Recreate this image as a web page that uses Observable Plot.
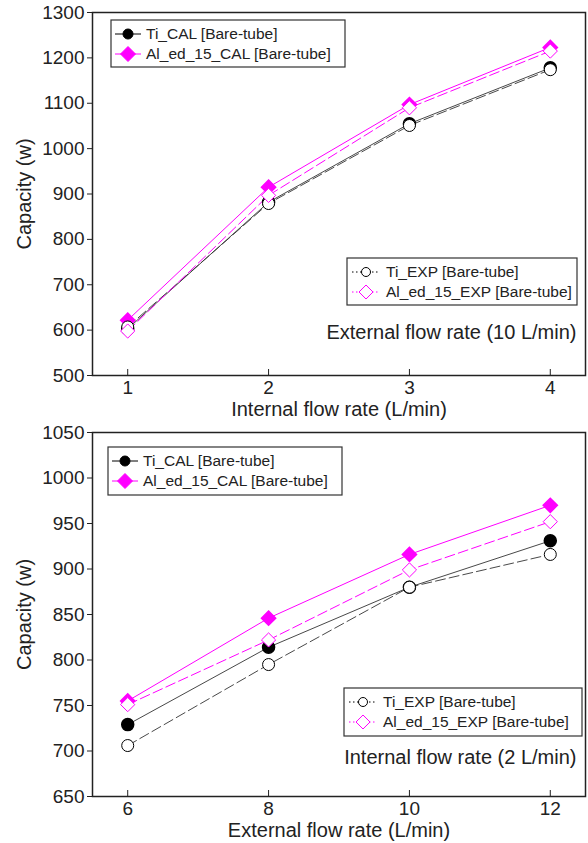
<!DOCTYPE html>
<html>
<head>
<meta charset="utf-8">
<script src="https://cdn.jsdelivr.net/npm/d3@7"></script>
<script src="https://cdn.jsdelivr.net/npm/@observablehq/plot@0.6"></script>
<style>
  html, body { margin: 0; padding: 0; background: #fff; }
  #wrap { width: 588px; }
  svg { display: block; }
</style>
</head>
<body>
<div id="wrap"></div>
<script>
// ---- Data: top panel (External flow rate 10 L/min) ----
const internalFlow = [1, 2, 3, 4];
const tiCalTop = [603, 882, 1055, 1178];
const tiExpTop = [607, 879, 1051, 1174];
const alCalTop = [622, 915, 1097, 1223];
const alExpTop = [598, 897, 1090, 1215];
const yTicksTop = [500, 600, 700, 800, 900, 1000, 1100, 1200, 1300];

// ---- Data: bottom panel (Internal flow rate 2 L/min) ----
const externalFlow = [6, 8, 10, 12];
const tiCalBot = [729, 814, 880, 931];
const tiExpBot = [706, 795, 880, 916];
const alCalBot = [755, 846, 916, 970];
const alExpBot = [751, 822, 899, 952];
const yTicksBot = [650, 700, 750, 800, 850, 900, 950, 1000, 1050];

const seriesNames = ["Ti_CAL [Bare-tube]", "Al_ed_15_CAL [Bare-tube]", "Ti_EXP [Bare-tube]", "Al_ed_15_EXP [Bare-tube]"];

const FONT = "Liberation Sans, Arial, Helvetica, sans-serif";
const MAG = "#ff00ff";
const BLK = "#222";

const zip = (xs, ys) => xs.map((x, i) => ({x, y: ys[i]}));

function makeChart(cfg) {
  const tiCal = zip(cfg.xs, cfg.tiCal), tiExp = zip(cfg.xs, cfg.tiExp);
  const alCal = zip(cfg.xs, cfg.alCal), alExp = zip(cfg.xs, cfg.alExp);
  const chart = Plot.plot({
    width: 588,
    height: cfg.height,
    marginLeft: 92,
    marginRight: 3,
    marginTop: cfg.marginTop,
    marginBottom: cfg.marginBottom,
    style: {fontFamily: FONT, fontSize: "19px", color: BLK, background: "#fff", overflow: "visible"},
    x: {domain: cfg.xDomain},
    y: {domain: cfg.yDomain},
    marks: [
      Plot.axisY({ticks: cfg.yTicks, tickSize: 5, tickPadding: 3, fontSize: 19, tickFormat: d => String(d),
        label: null}),
      Plot.axisY({ticks: [], tickSize: 0, fontSize: 20,
        label: "Capacity (w)", labelAnchor: "center", labelOffset: 76, labelArrow: false}),
      Plot.axisX({ticks: cfg.xs, tickSize: -6, tickPadding: 11, fontSize: 19, tickFormat: d => String(d),
        label: null}),
      Plot.axisX({ticks: [], tickSize: 0, fontSize: 20,
        label: cfg.xLabel, labelAnchor: "center", labelOffset: 40, labelArrow: false}),
      Plot.line(tiCal, {x: "x", y: "y", stroke: "#333", strokeWidth: 0.9}),
      Plot.line(tiExp, {x: "x", y: "y", stroke: "#333", strokeWidth: 0.9, strokeDasharray: "10,4"}),
      Plot.line(alCal, {x: "x", y: "y", stroke: MAG, strokeWidth: 1}),
      Plot.line(alExp, {x: "x", y: "y", stroke: MAG, strokeWidth: 1, strokeDasharray: "10,4"}),
      Plot.dot(tiCal, {x: "x", y: "y", r: 6, fill: "#000", stroke: "#000", symbol: "circle"}),
      Plot.dot(alCal, {x: "x", y: "y", r: 6.4, fill: MAG, stroke: MAG, symbol: "diamond2"}),
      Plot.dot(tiExp, {x: "x", y: "y", r: 6, fill: "#fff", stroke: "#000", strokeWidth: 1, symbol: "circle"}),
      Plot.dot(alExp, {x: "x", y: "y", r: 6.4, fill: "#fff", stroke: MAG, strokeWidth: 1, symbol: "diamond2"}),
      Plot.text([cfg.note], {text: d => d, frameAnchor: "bottom-right", dx: -9, dy: cfg.noteDy,
        fontSize: 20, fill: BLK, textAnchor: "end"}),
      Plot.frame({stroke: BLK, strokeWidth: 1.5})
    ]
  });

  const svg = d3.select(chart);
  function legend(box, items, opts) {
    const g = svg.append("g").attr("font-family", FONT).attr("font-size", 15.5)
      .attr("fill", BLK).attr("text-anchor", "start");
    g.append("rect").attr("x", box.x).attr("y", box.y).attr("width", box.w).attr("height", box.h)
      .attr("fill", "#fff").attr("stroke", "#333").attr("stroke-width", 1.2);
    items.forEach((it, i) => {
      const cy = box.y + opts.row0 + i * opts.rowStep;
      g.append("line").attr("x1", box.x + opts.l1).attr("x2", box.x + opts.l2)
        .attr("y1", cy).attr("y2", cy).attr("stroke", it.stroke).attr("stroke-width", 1)
        .attr("stroke-dasharray", it.dash || null);
      const mx = box.x + opts.mx;
      if (it.shape === "circle") {
        g.append("circle").attr("cx", mx).attr("cy", cy).attr("r", opts.cr)
          .attr("fill", it.fill).attr("stroke", it.stroke).attr("stroke-width", 1);
      } else {
        const h = opts.dh;
        g.append("path").attr("d", `M${mx},${cy - h}L${mx + h},${cy}L${mx},${cy + h}L${mx - h},${cy}Z`)
          .attr("fill", it.fill).attr("stroke", it.stroke).attr("stroke-width", 1);
      }
      g.append("text").attr("x", box.x + opts.tx).attr("y", cy).attr("dy", "0.35em").text(it.name);
    });
  }
  legend(cfg.leg1, [
    {name: seriesNames[0], shape: "circle", fill: "#000", stroke: "#000"},
    {name: seriesNames[1], shape: "diamond", fill: MAG, stroke: MAG}
  ], {row0: 14, rowStep: 20, l1: 4, l2: 30, mx: 17, cr: 5, dh: 7.5, tx: 35});
  legend(cfg.leg2, [
    {name: seriesNames[2], shape: "circle", fill: "#fff", stroke: "#000", dash: "1.5,2.5"},
    {name: seriesNames[3], shape: "diamond", fill: "#fff", stroke: MAG, dash: "1.5,2.5"}
  ], {row0: 14, rowStep: 20, l1: 5, l2: 32, mx: 19, cr: 4.5, dh: 7, tx: 39});
  return chart;
}

const wrap = document.getElementById("wrap");
wrap.appendChild(makeChart({
  xs: internalFlow, tiCal: tiCalTop, tiExp: tiExpTop, alCal: alCalTop, alExp: alExpTop,
  xDomain: [0.75, 4.25], yDomain: [500, 1300], yTicks: yTicksTop,
  height: 420, marginTop: 12, marginBottom: 45,
  xLabel: "Internal flow rate (L/min)",
  note: "External flow rate (10 L/min)", noteDy: -37,
  leg1: {x: 111, y: 20, w: 234, h: 47},
  leg2: {x: 347, y: 258, w: 230, h: 47}
}));
wrap.appendChild(makeChart({
  xs: externalFlow, tiCal: tiCalBot, tiExp: tiExpBot, alCal: alCalBot, alExp: alExpBot,
  xDomain: [5.5, 12.5], yDomain: [650, 1050], yTicks: yTicksBot,
  height: 423, marginTop: 12, marginBottom: 47,
  xLabel: "External flow rate (L/min)",
  note: "Internal flow rate (2 L/min)", noteDy: -33,
  leg1: {x: 108, y: 27, w: 234, h: 48},
  leg2: {x: 344, y: 268, w: 238, h: 48}
}));
</script>
</body>
</html>
